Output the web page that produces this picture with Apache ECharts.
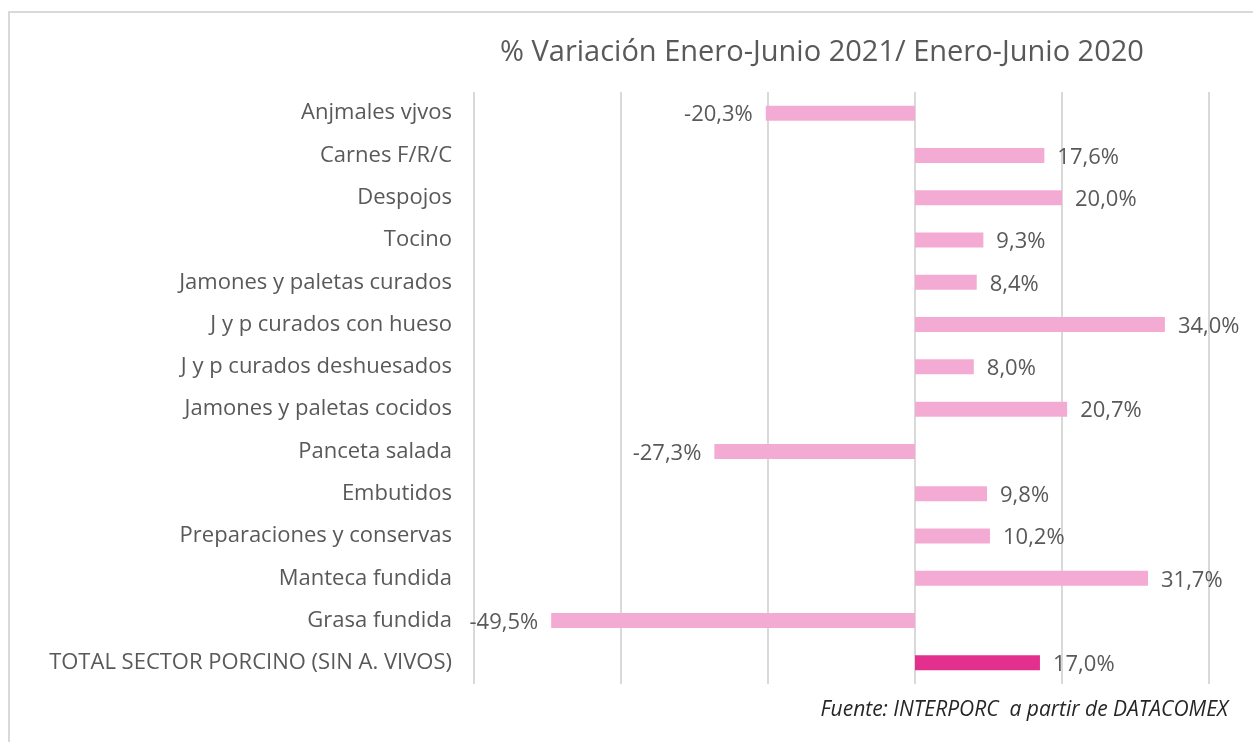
<!DOCTYPE html>
<html>
<head>
<meta charset="utf-8">
<script src="https://cdn.jsdelivr.net/npm/echarts@6/dist/echarts.min.js"></script>
<style>
  html, body { margin: 0; padding: 0; background: #fff; }
  #main { width: 1253px; height: 742px; }
</style>
</head>
<body>
<div id="main"></div>
<script>
// categorias (de arriba a abajo)
var categorias = [
    'Anjmales vjvos',
    'Carnes F/R/C',
    'Despojos',
    'Tocino',
    'Jamones y paletas curados',
    'J y p curados con hueso',
    'J y p curados deshuesados',
    'Jamones y paletas cocidos',
    'Panceta salada',
    'Embutidos',
    'Preparaciones y conservas',
    'Manteca fundida',
    'Grasa fundida',
    'TOTAL SECTOR PORCINO (SIN A. VIVOS)'
];
// % variacion
var variacion = [-20.3, 17.6, 20.0, 9.3, 8.4, 34.0, 8.0, 20.7, -27.3, 9.8, 10.2, 31.7, -49.5, 17.0];
// cual es la barra del total
var indiceTotal = 13;

var myChart = echarts.init(document.getElementById('main'));

var datos = variacion.map(function (v, i) {
    return {
        value: v,
        itemStyle: { color: i === indiceTotal ? '#E3308F' : '#F4ABD3' },
        label: { position: v < 0 ? 'left' : 'right' }
    };
});

var fuente = "'Open Sans', 'Liberation Sans', sans-serif";

var option = {
    animation: false,
    title: {
        text: '% Variación Enero-Junio 2021/ Enero-Junio 2020',
        left: 495,
        top: 33,
        textStyle: {
            fontFamily: fuente,
            fontSize: 29,
            fontWeight: 'normal',
            color: '#595959'
        }
    },
    graphic: [
        {
            type: 'rect',
            shape: { x: 9, y: 12, width: 1300, height: 800 },
            style: { fill: 'none', stroke: '#d9d9d9', lineWidth: 2 }
        },
        {
            type: 'text',
            right: 25,
            top: 700,
            style: {
                text: 'Fuente: INTERPORC  a partir de DATACOMEX',
                font: "italic 21px 'Open Sans', 'Liberation Sans', sans-serif",
                fill: '#262626'
            }
        }
    ],
    grid: {
        left: 474,
        right: 44,
        top: 92,
        bottom: 58
    },
    xAxis: {
        type: 'value',
        min: -60,
        max: 40,
        interval: 20,
        axisLabel: { show: false },
        axisLine: { show: false },
        axisTick: { show: false },
        splitLine: { lineStyle: { color: '#d9d9d9', width: 2 } }
    },
    yAxis: {
        type: 'category',
        inverse: true,
        data: categorias,
        axisLine: { show: false, onZero: false },
        axisTick: { show: false },
        axisLabel: {
            margin: 22,
            fontFamily: fuente,
            fontSize: 22,
            color: '#595959'
        }
    },
    series: [{
        type: 'bar',
        data: datos,
        barWidth: 15,
        label: {
            show: true,
            distance: 13,
            offset: [0, 2],
            fontFamily: fuente,
            fontSize: 22,
            color: '#595959',
            formatter: function (p) {
                return p.value.toFixed(1).replace('.', ',') + '%';
            }
        }
    }]
};

myChart.setOption(option);
</script>
</body>
</html>
